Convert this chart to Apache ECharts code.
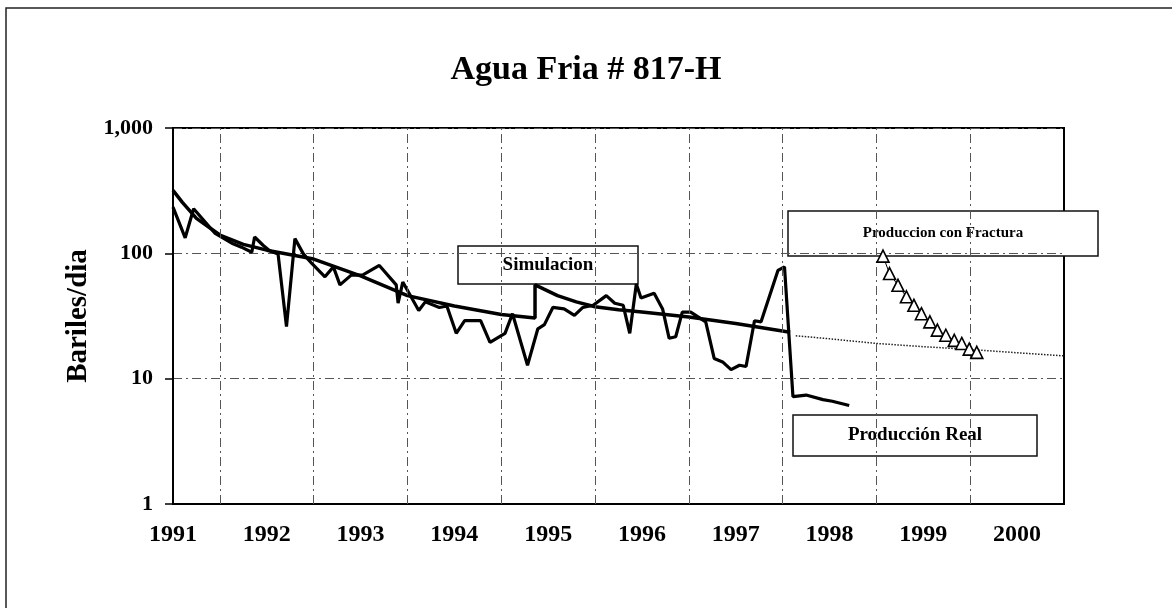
<!DOCTYPE html>
<html>
<head>
<meta charset="utf-8">
<script src="https://cdn.jsdelivr.net/npm/echarts@6/dist/echarts.min.js"></script>
<style>
  html, body { margin: 0; padding: 0; background: #fff; }
  #chart { width: 1172px; height: 608px; }
</style>
</head>
<body>
<div id="chart"></div>
<script>
// produccion real (mensual aprox.)
const realYears = [
  1991.00, 1991.13, 1991.22, 1991.45, 1991.64, 1991.73, 1991.84, 1991.87, 1991.96, 1992.03,
  1992.12, 1992.21, 1992.30, 1992.39, 1992.48, 1992.62, 1992.71, 1992.78, 1992.90, 1993.02,
  1993.20, 1993.38, 1993.40, 1993.45, 1993.62, 1993.69, 1993.84, 1993.92, 1994.02, 1994.11,
  1994.28, 1994.38, 1994.54, 1994.62, 1994.78, 1994.89, 1994.96, 1995.05, 1995.17, 1995.28,
  1995.37, 1995.48, 1995.62, 1995.71, 1995.80, 1995.87, 1995.94, 1995.99, 1996.13, 1996.22,
  1996.29, 1996.36, 1996.43, 1996.52, 1996.68, 1996.77, 1996.86, 1996.95, 1997.04, 1997.11,
  1997.20, 1997.27, 1997.45, 1997.52, 1997.61, 1997.75, 1997.93, 1998.03, 1998.21
];
const realValues = [
  234, 133, 227, 144, 119, 112, 102, 135, 116, 105,
  99, 26, 131, 99, 83, 65, 78, 56, 67, 67,
  80, 56, 40, 59, 35, 41, 37, 38, 23, 29,
  29, 19.5, 23, 33, 12.8, 25, 27, 37, 36, 32,
  37, 38.5, 46, 40, 38.5, 23, 57, 44, 48, 36,
  21, 21.6, 34, 34, 28.4, 14.5, 13.6, 11.8, 12.8, 12.5,
  29, 28.4, 73, 78, 7.2, 7.4, 6.8, 6.6, 6.1
];

// simulacion
const simYears = [
  1991.00, 1991.10, 1991.25, 1991.50, 1991.75, 1992.00, 1992.50, 1993.00, 1993.50, 1994.00,
  1994.50, 1994.86, 1994.86, 1994.95, 1995.10, 1995.30, 1995.50, 1995.75, 1996.00, 1996.50,
  1997.00, 1997.58
];
const simValues = [
  318, 255, 190, 140, 118, 106, 90, 66, 46, 38,
  32.5, 30.5, 56, 52, 46, 41, 37.5, 35.5, 34, 31,
  27.5, 23.5
];

// prolongacion de la simulacion (punteada)
const projYears = [1997.64, 1998.0, 1998.5, 1999.0, 1999.5, 2000.0, 2000.5];
const projValues = [22, 20.8, 19.1, 18.0, 17.1, 16.1, 15.2];

// produccion con fractura
const fracYears = [
  1998.57, 1998.64, 1998.73, 1998.82, 1998.90, 1998.98, 1999.07, 1999.15, 1999.24, 1999.33,
  1999.41, 1999.49, 1999.57
];
const fracValues = [95, 69, 55.6, 45, 38.5, 33, 28.4, 24.4, 22.2, 20.2, 19.1, 17.2, 16.2];

// lineas de cuadricula verticales (mitad de cada anio)
const gridYears = [1991.5, 1992.5, 1993.5, 1994.5, 1995.5, 1996.5, 1997.5, 1998.5, 1999.5];

const zip = (xs, ys) => xs.map((x, i) => [x, ys[i]]);
const serif = '"Liberation Serif", "Times New Roman", serif';
const dashDot = [9, 4, 2, 4];

const chart = echarts.init(document.getElementById('chart'));

const box = (x, y, w, h, text, size) => ({
  type: 'group',
  z: 100,
  children: [
    {
      type: 'rect',
      shape: { x: x, y: y, width: w, height: h },
      style: { fill: '#fff', stroke: '#111', lineWidth: 1.5 },
    },
    {
      type: 'text',
      x: x + w / 2,
      y: y + h / 2,
      style: {
        text: text,
        font: 'bold ' + size + 'px ' + serif,
        fill: '#000',
        align: 'center',
        verticalAlign: 'middle',
      },
    },
  ],
});

chart.setOption({
  animation: false,
  backgroundColor: '#fff',
  title: {
    text: 'Agua Fria # 817-H',
    left: 'center',
    top: 48,
    textStyle: { fontFamily: serif, fontWeight: 'bold', fontSize: 34, color: '#000' },
  },
  grid: {
    left: 173,
    right: 108,
    top: 128,
    bottom: 104,
    show: true,
    borderColor: '#000',
    borderWidth: 2,
    backgroundColor: 'transparent',
  },
  xAxis: {
    type: 'value',
    min: 1991,
    max: 2000.5,
    interval: 1,
    axisLine: { show: true, onZero: false, lineStyle: { color: '#000', width: 2 } },
    axisTick: { show: false },
    splitLine: { show: false },
    axisLabel: {
      margin: 19,
      color: '#000',
      fontFamily: serif,
      fontWeight: 'bold',
      fontSize: 24,
      formatter: (v) => (v % 1 === 0 ? String(v) : ''),
    },
  },
  yAxis: {
    type: 'log',
    logBase: 10,
    min: 1,
    max: 1000,
    name: 'Bariles/dia',
    nameLocation: 'middle',
    nameRotate: 90,
    nameGap: 80,
    nameTextStyle: { fontFamily: serif, fontWeight: 'bold', fontSize: 29, color: '#000' },
    axisLine: { show: true, lineStyle: { color: '#000', width: 2 } },
    axisTick: { show: true, length: 8, lineStyle: { color: '#000', width: 1.5 } },
    minorTick: { show: false },
    splitLine: { show: true, lineStyle: { color: '#555', width: 1, type: dashDot } },
    axisLabel: {
      margin: 20,
      color: '#000',
      fontFamily: serif,
      fontWeight: 'bold',
      fontSize: 22,
      formatter: (v) => (v >= 1000 ? v.toLocaleString('en-US') : String(v)),
    },
  },
  series: [
    {
      name: 'Proyeccion',
      type: 'line',
      data: zip(projYears, projValues),
      symbol: 'none',
      lineStyle: { color: '#222', width: 1.5, type: 'dotted' },
      z: 2,
      markLine: {
        silent: true,
        symbol: 'none',
        label: { show: false },
        lineStyle: { color: '#555', width: 1, type: dashDot },
        data: gridYears.map((y) => ({ xAxis: y })),
      },
    },
    {
      name: 'Simulacion',
      type: 'line',
      data: zip(simYears, simValues),
      symbol: 'none',
      lineStyle: { color: '#000', width: 3.5 },
      z: 3,
    },
    {
      name: 'Produccion Real',
      type: 'line',
      data: zip(realYears, realValues),
      symbol: 'none',
      lineStyle: { color: '#000', width: 3.2 },
      z: 4,
    },
    {
      name: 'Produccion con Fractura',
      type: 'line',
      data: zip(fracYears, fracValues),
      symbol: 'triangle',
      symbolSize: 12,
      itemStyle: { color: '#fff', borderColor: '#000', borderWidth: 1.6 },
      lineStyle: { color: '#000', width: 1 },
      z: 5,
    },
  ],
  graphic: [
    {
      type: 'polyline',
      z: 100,
      shape: { points: [[6, 608], [6, 8], [1172, 8]] },
      style: { stroke: '#222', lineWidth: 1.5, fill: null },
    },
    box(458, 246, 180, 38, 'Simulacion', 19),
    box(788, 211, 310, 45, 'Produccion con Fractura', 15),
    box(793, 415, 244, 41, 'Producción Real', 19),
  ],
});
</script>
</body>
</html>
